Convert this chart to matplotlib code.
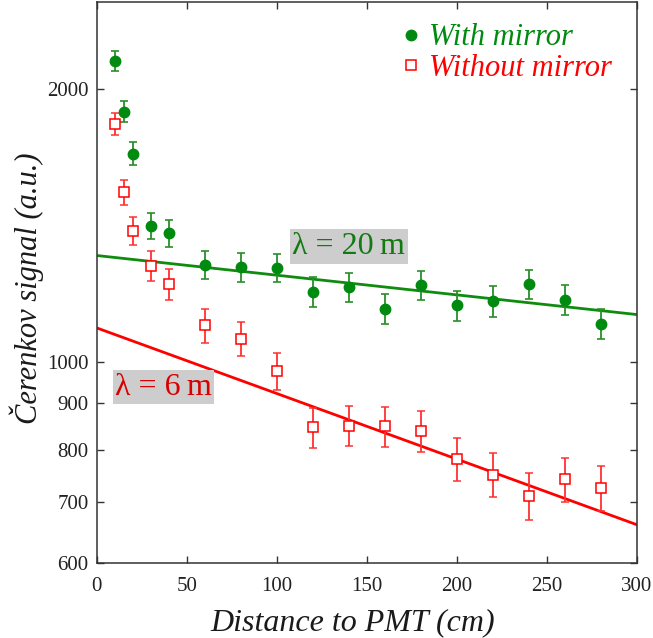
import numpy as np
import matplotlib
matplotlib.use("Agg")
import matplotlib.pyplot as plt
from matplotlib.ticker import FixedLocator, FixedFormatter, NullLocator
from matplotlib.lines import Line2D

# Measured signal vs. distance of the source to the PMT
distance_cm = [10, 15, 20, 30, 40, 60, 80, 100, 120, 140, 160, 180, 200, 220, 240, 260, 280]
with_mirror = [2146, 1888, 1697, 1412, 1386, 1279, 1272, 1270, 1195, 1208, 1144, 1214, 1154, 1167, 1218, 1170, 1102]
with_mirror_err = [55, 51, 50, 46, 47, 46, 46, 46, 45, 45, 44, 45, 44, 45, 45, 45, 43]
without_mirror = [1830, 1539, 1395, 1277, 1218, 1097, 1060, 977, 847, 850, 849, 839, 782, 751, 712, 742, 726]
without_mirror_err = [53, 48, 50, 48, 47, 47, 46, 45, 43, 43, 43, 43, 43, 42, 42, 42, 42]

# Exponential attenuation fits: amplitude and attenuation length (m)
fit_with_amp, fit_with_lambda_m = 1310.0, 20
fit_without_amp, fit_without_lambda_m = 1090.0, 6

y_ticks = [600, 700, 800, 900, 1000, 2000]
x_ticks = [0, 50, 100, 150, 200, 250, 300]

GREEN = "#008a10"
RED = "#ff0000"

plt.rcParams["font.family"] = ["Liberation Serif", "DejaVu Serif"]

fig = plt.figure(figsize=(6.53, 6.38), dpi=100)
ax = fig.add_axes([0.1481, 0.1176, 0.9755 - 0.1481, 0.9969 - 0.1176])

ax.set_yscale("log")
ax.set_xlim(0, 300)
ax.set_ylim(600, 2494)

xx = np.linspace(0, 300, 200)
ax.plot(xx, fit_with_amp * np.exp(-xx / (fit_with_lambda_m * 100.0)),
        color="#0f8c0f", lw=2.0, zorder=2)
ax.plot(xx, fit_without_amp * np.exp(-xx / (fit_without_lambda_m * 100.0)),
        color=RED, lw=2.0, zorder=2)

ax.errorbar(distance_cm, with_mirror, yerr=with_mirror_err, fmt="o",
            color=GREEN, ms=7.5, mec=GREEN, mfc=GREEN, ecolor="#2a8f2a",
            elinewidth=1.3, capsize=3, capthick=1.2, zorder=4)
ax.errorbar(distance_cm, without_mirror, yerr=without_mirror_err, fmt="s",
            color=RED, ms=7.5, mec=RED, mfc="white", mew=1.1, ecolor="#ff3030",
            elinewidth=1.3, capsize=3, capthick=1.2, zorder=4)

ax.text(140, 1340, "λ = %d\u2009m" % fit_with_lambda_m,
        color="#137a13", fontsize=23, ha="center", va="center",
        bbox=dict(facecolor="#cdcdcd", edgecolor="none", pad=2.0), zorder=5)
ax.text(37, 938, "λ = %d\u2009m" % fit_without_lambda_m,
        color="#d80000", fontsize=23, ha="center", va="center",
        bbox=dict(facecolor="#cdcdcd", edgecolor="none", pad=1.6), zorder=5)

ax.yaxis.set_major_locator(FixedLocator(y_ticks))
ax.yaxis.set_major_formatter(FixedFormatter([str(v) for v in y_ticks]))
ax.yaxis.set_minor_locator(NullLocator())
ax.set_xticks(x_ticks)

ax.tick_params(axis="both", which="both", direction="in", top=True, right=True,
               length=5, width=1, labelsize=15, colors="#333333",
               labelcolor="#222222")
ax.tick_params(axis="x", pad=10)
ax.tick_params(axis="y", pad=6)
for sp in ax.spines.values():
    sp.set_color("#333333")
    sp.set_linewidth(1.1)

ax.set_xlabel("Distance to PMT (cm)", fontsize=23, style="italic",
              color="#1a1a1a", labelpad=9, x=0.474)
ax.set_ylabel("Čerenkov signal (a.u.)", fontsize=22, style="italic",
              color="#1a1a1a", labelpad=2, y=0.49)

handles = [
    Line2D([], [], ls="none", marker="o", ms=7.5, color=GREEN),
    Line2D([], [], ls="none", marker="s", ms=7, mec=RED, mfc="white", mew=1.1),
]
leg = ax.legend(handles, ["With mirror", "Without mirror"], loc="upper right",
                bbox_to_anchor=(0.993, 1.0), frameon=False, handlelength=0.5,
                handletextpad=0.35, labelspacing=0.04, borderaxespad=0.3,
                prop=dict(family="Liberation Serif", style="italic", size=22))
for txt, col in zip(leg.get_texts(), [GREEN, RED]):
    txt.set_color(col)

fig.savefig("out.png", dpi=100)
